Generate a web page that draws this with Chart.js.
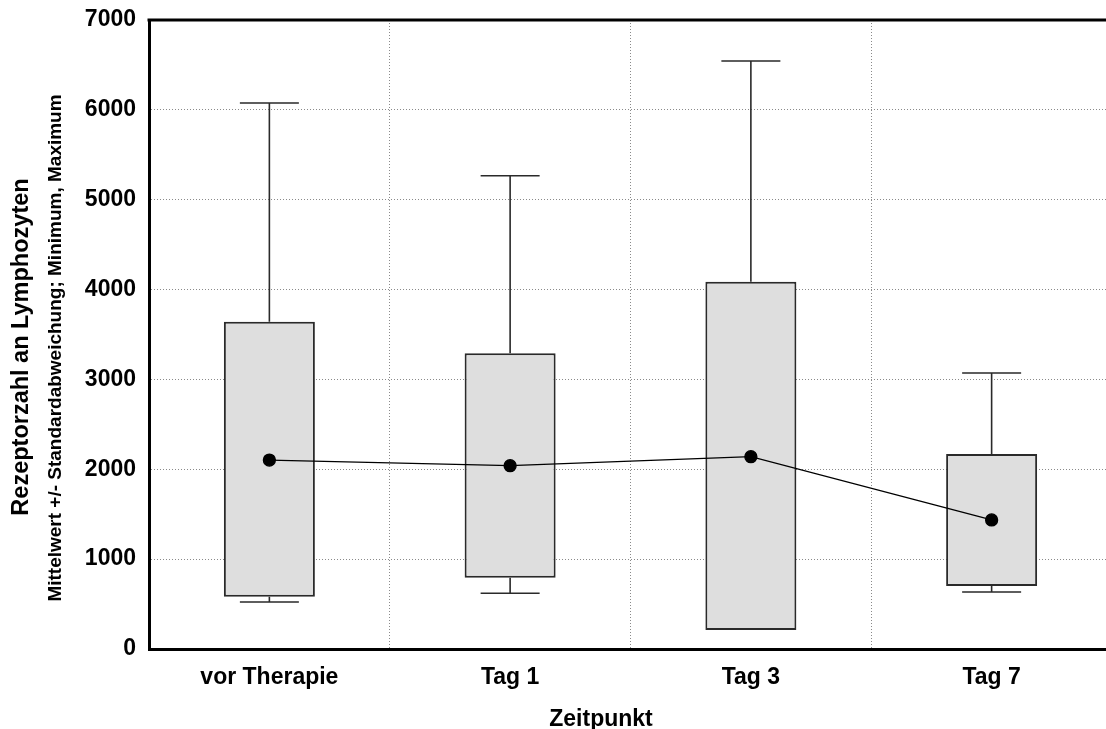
<!DOCTYPE html>
<html lang="de">
<head>
  <meta charset="UTF-8" />
  <title>Rezeptorzahl an Lymphozyten</title>
  <script src="https://cdn.jsdelivr.net/npm/chart.js"></script>
  <style>
    html, body { margin: 0; padding: 0; background: #fff; overflow: hidden; }
    canvas { display: block; }
  </style>
</head>
<body>
  <canvas id="chart" width="1112" height="729"></canvas>

  <script>
    // Werte
    const categories = ['vor Therapie', 'Tag 1', 'Tag 3', 'Tag 7'];
    const means    = [2103, 2040, 2140, 1436];
    const sdLow    = [582, 793, 211, 701];    // Mittelwert - SD
    const sdHigh   = [3642, 3290, 4088, 2170]; // Mittelwert + SD
    const minima   = [523, 620, null, 634];   // Tag 3: Minimum liegt im Kasten
    const maxima   = [6076, 5267, 6543, 3071];
    const yTicks   = [0, 1000, 2000, 3000, 4000, 5000, 6000, 7000];

    const FONT = "'Liberation Sans', Arial, sans-serif";

    // Whisker (Min/Max) mit Querstrich
    const whiskers = {
      id: 'whiskers',
      beforeDatasetsDraw(chart) {
        const { ctx, scales: { x, y } } = chart;
        ctx.save();
        ctx.strokeStyle = '#2a2a2a';
        ctx.lineWidth = 1.6;
        const half = 29.5;
        categories.forEach((c, i) => {
          const px = x.getPixelForValue(i);
          const seg = (from, to) => {
            if (to == null) return;
            const y1 = y.getPixelForValue(from), y2 = y.getPixelForValue(to);
            ctx.beginPath();
            ctx.moveTo(px, y1); ctx.lineTo(px, y2);
            ctx.moveTo(px - half, y2); ctx.lineTo(px + half, y2);
            ctx.stroke();
          };
          seg(sdHigh[i], maxima[i]);
          seg(sdLow[i], minima[i]);
        });
        ctx.restore();
      },
      afterDraw(chart) {
        const { ctx, chartArea } = chart;
        ctx.save();
        // obere Rahmenlinie
        ctx.strokeStyle = '#000';
        ctx.lineWidth = 3;
        ctx.beginPath();
        ctx.moveTo(chartArea.left - 1.5, chartArea.top);
        ctx.lineTo(chartArea.right, chartArea.top);
        ctx.stroke();

        ctx.fillStyle = '#000';
        ctx.textAlign = 'center';
        ctx.textBaseline = 'middle';
        ctx.font = 'bold 23px ' + FONT;
        ctx.fillText('Zeitpunkt', 601, 720);

        ctx.save();
        ctx.translate(22, 347);
        ctx.rotate(-Math.PI / 2);
        ctx.font = 'bold 23.5px ' + FONT;
        ctx.fillText('Rezeptorzahl an Lymphozyten', 0, 0);
        ctx.restore();

        ctx.save();
        ctx.translate(56, 348);
        ctx.rotate(-Math.PI / 2);
        ctx.font = 'bold 19px ' + FONT;
        ctx.fillText('Mittelwert +/- Standardabweichung; Minimum, Maximum', 0, 0);
        ctx.restore();

        ctx.restore();
      }
    };

    new Chart(document.getElementById('chart'), {
      data: {
        labels: categories,
        datasets: [
          {
            type: 'line',
            data: means,
            borderColor: '#000',
            borderWidth: 1.3,
            pointRadius: 6,
            pointBackgroundColor: '#000',
            pointBorderColor: '#000',
            tension: 0,
            order: 0
          },
          {
            type: 'bar',
            data: sdLow.map((v, i) => [v, sdHigh[i]]),
            backgroundColor: '#dedede',
            borderColor: '#2a2a2a',
            borderWidth: 2,
            borderSkipped: false,
            barPercentage: 0.378,
            categoryPercentage: 1,
            order: 1
          }
        ]
      },
      options: {
        responsive: false,
        animation: false,
        layout: { autoPadding: false, padding: { top: 20, right: 0, bottom: 0, left: 0 } },
        plugins: { legend: { display: false }, tooltip: { enabled: false } },
        scales: {
          x: {
            type: 'category',
            offset: true,
            grid: { offset: true, color: '#8a8a8a', drawTicks: false },
            border: { display: true, color: '#000', width: 3, dash: [1, 2] },
            ticks: { color: '#000', padding: 15, font: { family: FONT, size: 23, weight: 'bold' } },
            afterFit: s => { s.height = 80; s.paddingLeft = 0; s.paddingRight = 0; }
          },
          y: {
            min: 0,
            max: 7000,
            afterBuildTicks: s => { s.ticks = yTicks.map(v => ({ value: v })); },
            grid: { color: '#8a8a8a', drawTicks: false },
            border: { display: true, color: '#000', width: 3, dash: [1, 2] },
            ticks: {
              color: '#000', padding: 13,
              font: { family: FONT, size: 23, weight: 'bold' },
              callback: v => String(v)
            },
            afterFit: s => { s.width = 149; s.paddingTop = 0; s.paddingBottom = 0; }
          }
        }
      },
      plugins: [whiskers]
    });
  </script>
</body>
</html>
